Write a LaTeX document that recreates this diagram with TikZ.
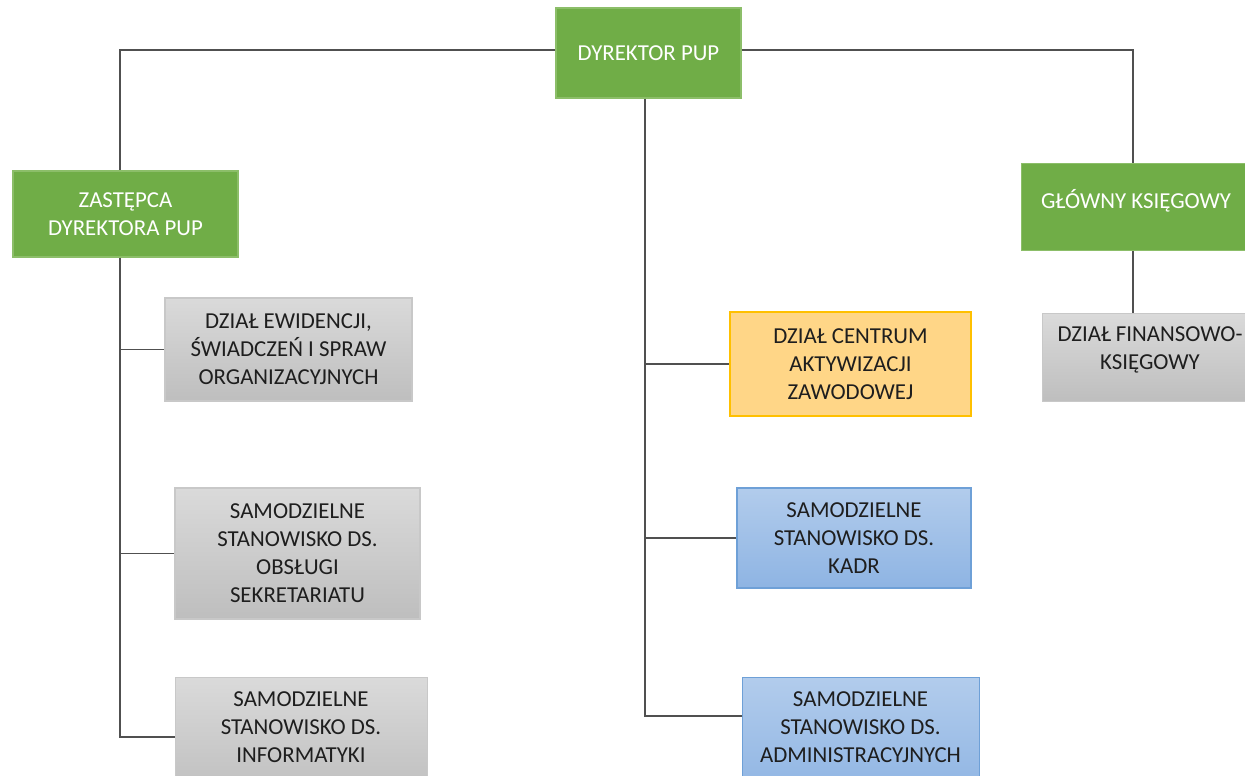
\documentclass[tikz,border=0pt]{standalone}
\usepackage{fontspec}
\setmainfont{Carlito}
\begin{document}
\begin{tikzpicture}[x=0.02cm,y=-0.02cm,
  txt/.style={align=center, font=\fontsize{13}{15.9}\selectfont},
  base/.style={draw, rectangle, inner sep=0pt, txt, line width=0.8pt},
  greenbox/.style={base, fill={rgb,255:red,112;green,173;blue,71}, draw={rgb,255:red,140;green,190;blue,105}, text=white},
  graybox/.style={base, top color={rgb,255:red,218;green,218;blue,218}, bottom color={rgb,255:red,190;green,190;blue,190}, draw={rgb,255:red,200;green,200;blue,200}, text={rgb,255:red,30;green,30;blue,30}},
  orangebox/.style={base, fill={rgb,255:red,255;green,214;blue,135}, draw={rgb,255:red,255;green,192;blue,0}, text={rgb,255:red,30;green,30;blue,30}},
  bluebox/.style={base, top color={rgb,255:red,178;green,204;blue,236}, bottom color={rgb,255:red,142;green,180;blue,227}, draw={rgb,255:red,110;green,160;blue,215}, text={rgb,255:red,30;green,30;blue,30}},
  darktxt/.style={txt, text={rgb,255:red,30;green,30;blue,30}},
  conn/.style={draw={rgb,255:red,80;green,80;blue,80}, line width=1.1pt}]
\useasboundingbox (0,0) rectangle (1245,775);
\fill[white] (0,0) rectangle (1245,775);

\node[greenbox, minimum width=185*0.02cm, minimum height=90*0.02cm] (dyr) at (648.5,53) {DYREKTOR PUP};
\node[greenbox, minimum width=225*0.02cm, minimum height=86*0.02cm] (zast) at (125.5,214) {ZASTĘPCA\\DYREKTORA PUP};
\node[greenbox, minimum width=226*0.02cm, minimum height=87*0.02cm, anchor=north west] (gk) at (1021,163) {};
\node[txt, text=white] (gkt) at (1136,200.5) {GŁÓWNY KSIĘGOWY};

\node[graybox, minimum width=247*0.02cm, minimum height=103*0.02cm] (ewid) at (288.5,349.5) {DZIAŁ EWIDENCJI,\\ŚWIADCZEŃ I SPRAW\\ORGANIZACYJNYCH};
\node[graybox, minimum width=245*0.02cm, minimum height=131*0.02cm] (sekr) at (297.5,553.5) {SAMODZIELNE\\STANOWISKO DS.\\OBSŁUGI\\SEKRETARIATU};
\node[graybox, minimum width=252*0.02cm, minimum height=120*0.02cm, anchor=north west] (info) at (175,677) {};
\node[darktxt] (infot) at (301,727) {SAMODZIELNE\\STANOWISKO DS.\\INFORMATYKI};

\node[orangebox, minimum width=241*0.02cm, minimum height=104*0.02cm] (cent) at (850.5,364) {DZIAŁ CENTRUM\\AKTYWIZACJI\\ZAWODOWEJ};
\node[bluebox, minimum width=234*0.02cm, minimum height=100*0.02cm] (kadr) at (854,538) {SAMODZIELNE\\STANOWISKO DS.\\KADR};
\node[bluebox, minimum width=237*0.02cm, minimum height=120*0.02cm, anchor=north west] (adm) at (742,677) {};
\node[darktxt] (admt) at (860.5,727) {SAMODZIELNE\\STANOWISKO DS.\\ADMINISTRACYJNYCH};

\node[graybox, minimum width=210*0.02cm, minimum height=88*0.02cm, anchor=north west] (fin) at (1042,313) {};
\node[darktxt] (fint) at (1150,350) {DZIAŁ FINANSOWO-\\KSIĘGOWY};

% lines
\coordinate (tl) at (120,50);
\coordinate (tr) at (1133,50);
\draw[conn] (dyr.west |- tl) -- (tl) -- (zast.north -| tl);
\draw[conn] (dyr.east |- tr) -- (tr) -- (gk.north -| tr);
\draw[conn] (gk.south -| tr) -- (fin.north -| tr);

\coordinate (zl) at (120,737);
\draw[conn] (zast.south -| zl) -- (zl) -- (info.west |- zl);
\draw[conn] (ewid.west -| zl) -- (ewid.west);
\draw[conn] (sekr.west -| zl) -- (sekr.west);

\coordinate (dl) at (645,716);
\draw[conn] (dyr.south -| dl) -- (dl) -- (adm.west |- dl);
\draw[conn] (cent.west -| dl) -- (cent.west);
\draw[conn] (kadr.west -| dl) -- (kadr.west);
\end{tikzpicture}
\end{document}
